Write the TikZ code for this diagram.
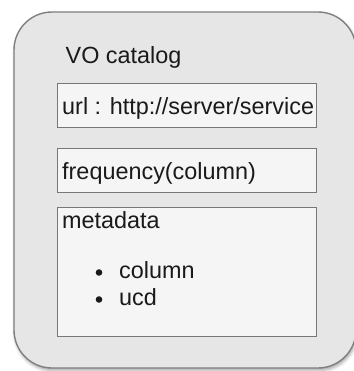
\documentclass[tikz,border=0pt]{standalone}
\usepackage{fontspec}
\setmainfont{Liberation Sans}
\usetikzlibrary{shadows.blur}
\definecolor{outerfill}{HTML}{E6E6E6}
\definecolor{outerline}{HTML}{7F7F7F}
\definecolor{innerfill}{HTML}{F5F5F5}
\definecolor{innerline}{HTML}{777777}
\definecolor{ink}{HTML}{1A1A1A}
\begin{document}
\begin{tikzpicture}[x=1pt,y=-1pt,
  container/.style={draw=outerline, line width=1.4pt, fill=outerfill,
    rounded corners=38pt, inner sep=0pt,
    blur shadow={shadow xshift=1pt, shadow yshift=-2.5pt, shadow blur radius=3pt, shadow opacity=35}},
  field/.style={draw=innerline, line width=1pt, fill=innerfill, inner sep=0pt,
    minimum width=259pt},
  label/.style={anchor=base west, inner sep=0pt, text=ink,
    font=\fontsize{23.4}{27}\selectfont},
  bulletdot/.style={circle, fill=ink, inner sep=0pt, minimum size=6.6pt}]
\useasboundingbox (0,0) rectangle (353,371);
% outer catalog container
\node[container, minimum width=342pt, minimum height=356pt] (catalog) at (185,190) {};
\node[label] (title) at (65.5,63.5) {VO catalog};
% field boxes
\node[field, minimum height=43.5pt] (url) at (186.5,105.75) {};
\node[field, minimum height=43.5pt] (freq) at (186.5,170.75) {};
\node[field, minimum height=129pt] (meta) at (186.5,271.5) {};
% field texts
\node[label] (urltext) at (62,115) {url : http://server/service};
\node[label] (freqtext) at (62,179) {frequency(column)};
\node[label] (metatext) at (62,228) {metadata};
% bullet list
\node[bulletdot] (b1) at (99,272.5) {};
\node[bulletdot] (b2) at (99,299.5) {};
\node[label] (col) at (119,278.5) {column};
\node[label] (ucd) at (119,305) {ucd};
\end{tikzpicture}
\end{document}
